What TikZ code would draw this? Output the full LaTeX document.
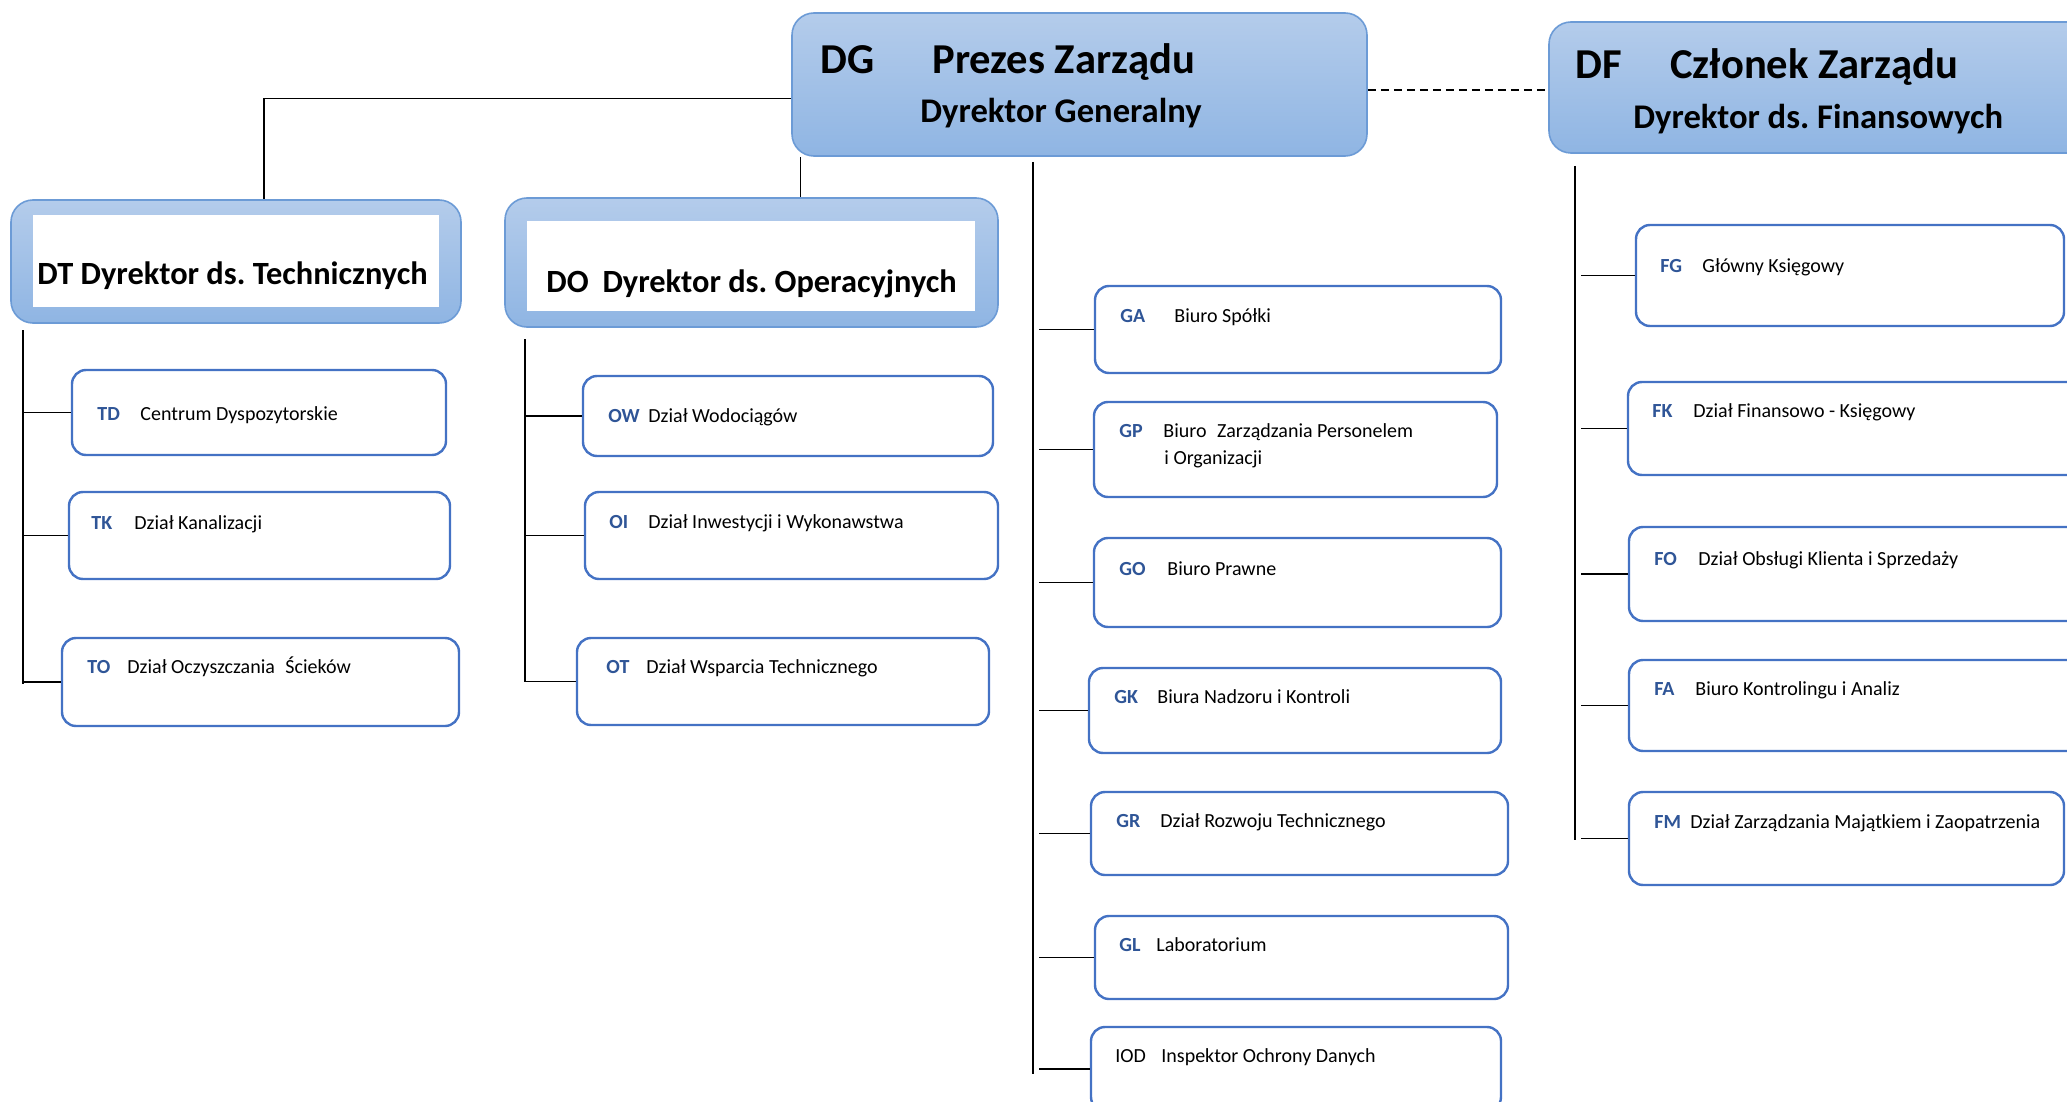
\documentclass[tikz,border=0pt]{standalone}
\usepackage{fontspec}
\setmainfont{Carlito}
\usetikzlibrary{fit,shadings}
\frenchspacing

\definecolor{headtop}{RGB}{180,204,235}
\definecolor{headbot}{RGB}{143,181,227}
\definecolor{headline}{RGB}{108,155,214}
\definecolor{unitline}{RGB}{68,114,196}
\definecolor{codeblue}{RGB}{47,85,151}

\tikzset{
  board/.style = {draw=headline, line width=0.8pt, rounded corners=11pt, top color=headtop, bottom color=headbot, inner sep=0pt},
  pane/.style = {fill=white, inner sep=0pt},
  unit/.style = {draw=unitline, line width=1.2pt, rounded corners=7pt, fill=white, inner sep=0pt},
  ucode/.style = {anchor=base west, inner sep=0pt, text=codeblue, font=\bfseries\fontsize{10}{12}\selectfont},
  uname/.style = {anchor=base west, inner sep=0pt, font=\fontsize{10}{12}\selectfont},
  btitle/.style = {anchor=base west, inner sep=0pt, font=\bfseries\fontsize{21.3}{25}\selectfont},
  bsub/.style = {anchor=base west, inner sep=0pt, font=\bfseries\fontsize{17.3}{20}\selectfont},
  chief/.style = {anchor=base west, inner sep=0pt, font=\bfseries\fontsize{16.2}{19}\selectfont},
  link/.style = {line width=0.6pt},
  spine/.style = {line width=0.8pt}
}

\begin{document}
\begin{tikzpicture}[x=0.5pt, y=-0.5pt]
	\useasboundingbox (0,0) rectangle (2067,1102);
	\clip (0,0) rectangle (2067,1102);

	% board
	\node[board, fit={(792,13) (1367,156)}] (dg) {};
	\node[btitle] (dgc) at (820,74) {DG};
	\node[btitle] (dgn) at (932,74) {Prezes Zarządu};
	\node[bsub] (dgs) at (920,123) {Dyrektor Generalny};

	\node[board, fit={(1549,22) (2090,153)}] (df) {};
	\node[btitle] (dfc) at (1575,79) {DF};
	\node[btitle] (dfn) at (1670,79) {Członek Zarządu};
	\node[bsub] (dfs) at (1633,128) {Dyrektor ds. Finansowych};

	% directors
	\node[board, fit={(11,200) (461,323)}] (dt) {};
	\node[pane, fit={(33,215) (439,307)}] (dtp) {};
	\node[chief] (dtn) at (37,284) {DT Dyrektor ds. Technicznych};

	\node[board, fit={(505,198) (998,327)}] (do) {};
	\node[pane, fit={(527,221) (975,311)}] (dop) {};
	\node[chief] (don) at (546,292) {DO\hspace{0.2em} Dyrektor ds. Operacyjnych};

	% technical units
	\node[unit, fit={(72,370) (446,455)}] (td) {};
	\node[ucode] (tdc) at (97,420) {TD};
	\node[uname] (tdn) at (140,420) {Centrum Dyspozytorskie};
	\node[unit, fit={(69,492) (450,579)}] (tk) {};
	\node[ucode] (tkc) at (91,529) {TK};
	\node[uname] (tkn) at (134,529) {Dział Kanalizacji};
	\node[unit, fit={(62,638) (459,726)}] (to) {};
	\node[ucode] (toc) at (87,673) {TO};
	\node[uname] (ton) at (127,673) {Dział Oczyszczania\hspace{0.3em} Ścieków};

	% operational units
	\node[unit, fit={(583,376) (993,456)}] (ow) {};
	\node[ucode] (owc) at (608,422) {OW};
	\node[uname] (own) at (648,422) {Dział Wodociągów};
	\node[unit, fit={(585,492) (998,579)}] (oi) {};
	\node[ucode] (oic) at (609,528) {OI};
	\node[uname] (oin) at (648,528) {Dział Inwestycji i Wykonawstwa};
	\node[unit, fit={(577,638) (989,725)}] (ot) {};
	\node[ucode] (otc) at (606,673) {OT};
	\node[uname] (otn) at (646,673) {Dział Wsparcia Technicznego};

	% units of the general director
	\node[unit, fit={(1095,286) (1501,373)}] (ga) {};
	\node[ucode] (gac) at (1120,322) {GA};
	\node[uname] (gan) at (1174,322) {Biuro Spółki};
	\node[unit, fit={(1094,402) (1497,497)}] (gp) {};
	\node[ucode] (gpc) at (1119,437) {GP};
	\node[uname] (gpn) at (1163,437) {Biuro\hspace{0.3em} Zarządzania Personelem};
	\node[uname] (gpm) at (1164,464) {i Organizacji};
	\node[unit, fit={(1094,538) (1501,627)}] (go) {};
	\node[ucode] (goc) at (1119,575) {GO};
	\node[uname] (gon) at (1167,575) {Biuro Prawne};
	\node[unit, fit={(1089,668) (1501,753)}] (gk) {};
	\node[ucode] (gkc) at (1114,703) {GK};
	\node[uname] (gkn) at (1157,703) {Biura Nadzoru i Kontroli};
	\node[unit, fit={(1091,792) (1508,875)}] (gr) {};
	\node[ucode] (grc) at (1116,827) {GR};
	\node[uname] (grn) at (1160,827) {Dział Rozwoju Technicznego};
	\node[unit, fit={(1095,916) (1508,999)}] (gl) {};
	\node[ucode] (glc) at (1119,951) {GL};
	\node[uname] (gln) at (1156,951) {Laboratorium};
	\node[unit, fit={(1091,1027) (1501,1111)}] (iod) {};
	\node[uname] (iodc) at (1115,1062) {IOD};
	\node[uname] (iodn) at (1161,1062) {Inspektor Ochrony Danych};

	% financial units
	\node[unit, fit={(1636,225) (2064,326)}] (fg) {};
	\node[ucode] (fgc) at (1660,272) {FG};
	\node[uname] (fgn) at (1702,272) {Główny Księgowy};
	\node[unit, fit={(1628,382) (2085,475)}] (fk) {};
	\node[ucode] (fkc) at (1652,417) {FK};
	\node[uname] (fkn) at (1693,417) {Dział Finansowo - Księgowy};
	\node[unit, fit={(1629,527) (2085,621)}] (fo) {};
	\node[ucode] (foc) at (1654,565) {FO};
	\node[uname] (fon) at (1698,565) {Dział Obsługi Klienta i Sprzedaży};
	\node[unit, fit={(1629,660) (2085,751)}] (fa) {};
	\node[ucode] (fac) at (1654,695) {FA};
	\node[uname] (fan) at (1695,695) {Biuro Kontrolingu i Analiz};
	\node[unit, fit={(1629,792) (2064,885)}] (fm) {};
	\node[ucode] (fmc) at (1654,828) {FM};
	\node[uname] (fmn) at (1690,828) {Dział Zarządzania Majątkiem i Zaopatrzenia};

	% spines
	\coordinate (ttop) at (23,330);
	\coordinate (tbot) at (23,684);
	\coordinate (otop) at (525,339);
	\coordinate (obot) at (525,682);
	\coordinate (gtop) at (1033,162);
	\coordinate (gbot) at (1033,1074);
	\coordinate (ftop) at (1575,166);
	\coordinate (fbot) at (1575,840);
	\draw[spine] (ttop) -- (tbot);
	\draw[spine] (otop) -- (obot);
	\draw[spine] (gtop) -- (gbot);
	\draw[spine] (ftop) -- (fbot);

	% links
	\draw[link] ([yshift=-7pt]dg.west) -| ([xshift=14pt]dt.north);
	\draw[link] ([xshift=4.5pt]dg.south west) -- ([xshift=4.5pt]dg.south west |- do.north);
	\draw[line width=1pt, dash pattern=on 4pt off 2.5pt] ([yshift=-3pt]dg.east) -- ([yshift=-3pt]dg.east -| df.west);

	\foreach \u in {td,tk,to}
		\draw[link] (\u.west -| ttop) -- (\u.west);
	\foreach \u in {ow,oi,ot}
		\draw[link] (\u.west -| otop) -- (\u.west);
	\foreach \u in {ga,gp,go,gk,gr,gl,iod}
		\draw[link] ([xshift=3pt]\u.west -| gtop) -- (\u.west);
	\foreach \u in {fg,fk,fo,fa,fm}
		\draw[link] ([xshift=3pt]\u.west -| ftop) -- (\u.west);
\end{tikzpicture}
\end{document}
